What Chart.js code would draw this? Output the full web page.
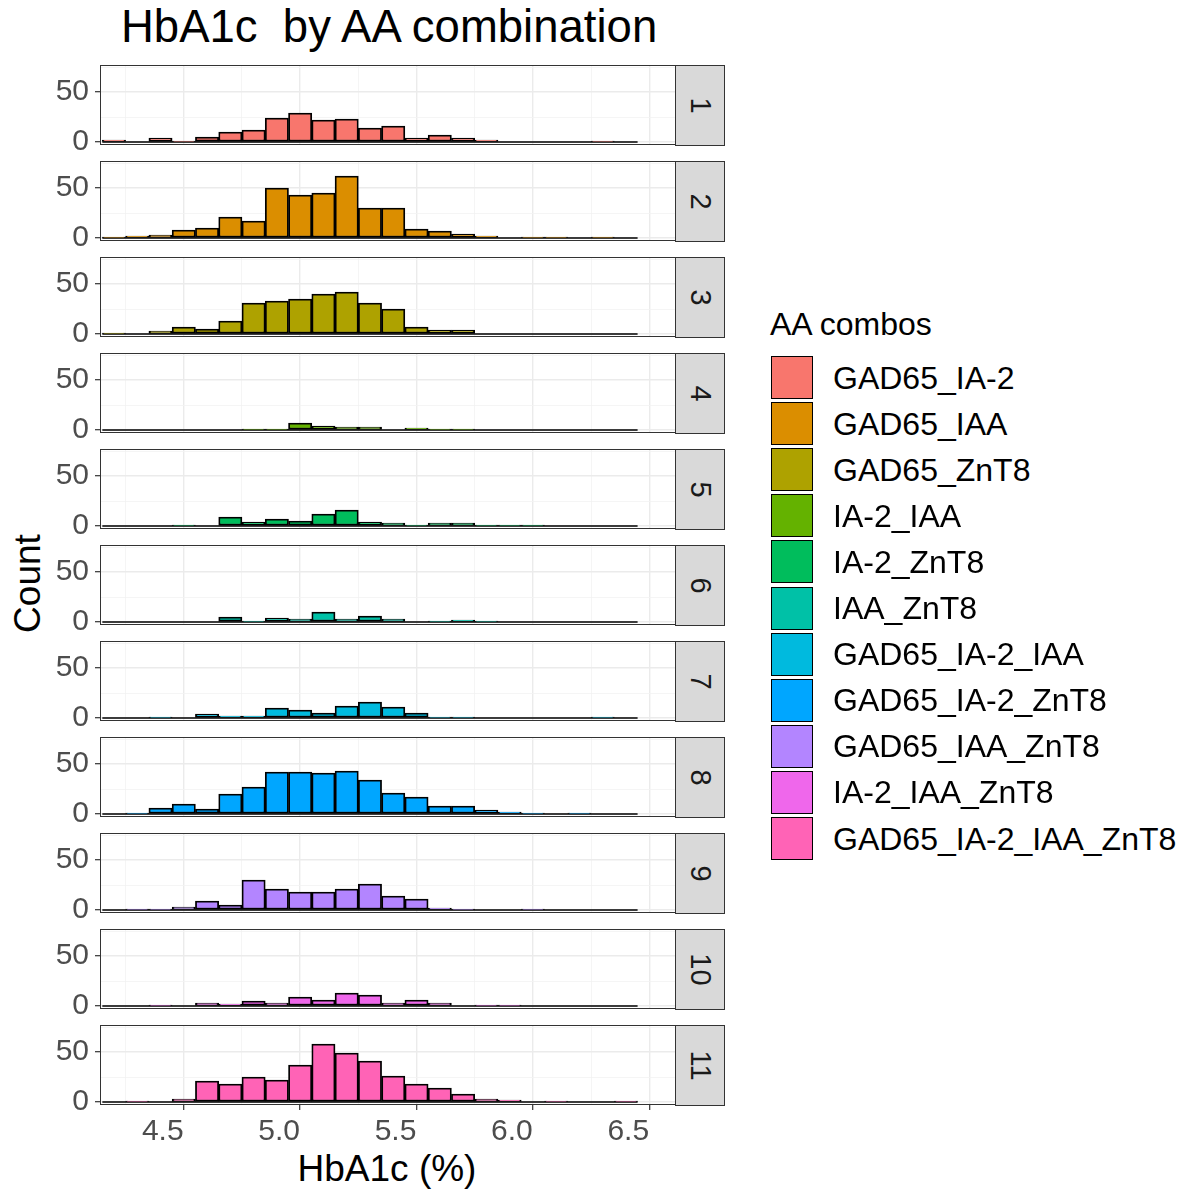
<!DOCTYPE html>
<html>
<head>
  <title>HbA1c by AA combination</title>
  <script src="https://cdn.jsdelivr.net/npm/chart.js"></script>
  <style>
    body { margin: 0; background: #fff; font-family: "Liberation Sans", Arial, sans-serif; }
    #page { position: relative; width: 1185px; height: 1194px; overflow: hidden; }
    .panel { position: absolute; left: 0; }
    .strip { position: absolute; left: 675px; width: 48px; height: 79px; background: #d9d9d9;
             border: 1px solid #333; display: flex; align-items: center; justify-content: center; }
    .strip span { display: block; transform: rotate(90deg); font-size: 29px; color: #1a1a1a; white-space: nowrap; }
    .txt { position: absolute; white-space: pre; line-height: 1; color: #000; }
    .key { position: absolute; left: 771px; width: 40px; height: 41px; border: 1.5px solid #000; }
  </style>
</head>
<body>
<div id="page">
  <div class="txt" style="left:121px; top:4px; font-size:45.5px;">HbA1c  by AA combination</div>
  <div class="txt" style="left:-73px; top:565px; width:200px; text-align:center; font-size:37px; transform:rotate(-90deg);">Count</div>
  <div class="txt" style="left:287px; top:1150px; width:200px; text-align:center; font-size:37px;">HbA1c (%)</div>
  <div class="txt" style="left:770px; top:308px; font-size:32px;">AA combos</div>
</div>

<script>
  // histogram bins (HbA1c %), bin centres
  const binCenters = [4.2, 4.3, 4.4, 4.5, 4.6, 4.7, 4.8, 4.9, 5.0, 5.1, 5.2, 5.3,
                      5.4, 5.5, 5.6, 5.7, 5.8, 5.9, 6.0, 6.1, 6.2, 6.3, 6.4];

  const panelIds = ['1', '2', '3', '4', '5', '6', '7', '8', '9', '10', '11'];
  const comboNames = ['GAD65_IA-2', 'GAD65_IAA', 'GAD65_ZnT8', 'IA-2_IAA', 'IA-2_ZnT8', 'IAA_ZnT8',
                      'GAD65_IA-2_IAA', 'GAD65_IA-2_ZnT8', 'GAD65_IAA_ZnT8', 'IA-2_IAA_ZnT8', 'GAD65_IA-2_IAA_ZnT8'];
  const comboColors = ['#F8766D', '#DB8E00', '#AEA200', '#64B200', '#00BD5C', '#00C1A7',
                       '#00BADE', '#00A6FF', '#B385FF', '#EF67EB', '#FF63B6'];

  // counts per bin, one array per panel
  const counts1  = [2, 0, 4, 1, 5, 10, 12, 24, 29, 22, 23, 14, 16, 4, 7, 4, 2, 0, 0, 0, 0, 1, 0];
  const counts2  = [1, 2, 3, 8, 10, 21, 17, 50, 43, 45, 62, 30, 30, 9, 7, 4, 2, 0, 1, 1, 0, 1, 0];
  const counts3  = [1, 0, 3, 7, 5, 13, 31, 33, 35, 40, 42, 31, 25, 7, 4, 4, 0, 0, 0, 0, 0, 0, 0];
  const counts4  = [0, 0, 0, 0, 0, 0, 1, 1, 7, 4, 3, 3, 0, 2, 1, 1, 0, 0, 0, 0, 0, 0, 0];
  const counts5  = [0, 0, 0, 1, 0, 9, 4, 7, 5, 12, 16, 4, 3, 1, 3, 3, 1, 1, 1, 0, 0, 0, 0];
  const counts6  = [0, 0, 0, 0, 0, 5, 1, 4, 3, 10, 3, 6, 3, 0, 1, 2, 1, 0, 0, 0, 0, 0, 0];
  const counts7  = [0, 0, 1, 0, 4, 2, 2, 10, 8, 5, 12, 16, 11, 5, 1, 1, 0, 0, 0, 0, 0, 1, 0];
  const counts8  = [0, 1, 6, 10, 5, 20, 27, 42, 42, 41, 43, 34, 21, 17, 8, 8, 4, 2, 1, 0, 1, 0, 0];
  const counts9  = [0, 1, 1, 3, 9, 5, 30, 21, 18, 18, 21, 26, 14, 11, 2, 1, 0, 0, 1, 0, 0, 0, 0];
  const counts10 = [0, 0, 1, 0, 3, 2, 5, 3, 9, 6, 13, 11, 3, 6, 3, 0, 1, 1, 0, 0, 0, 0, 0];
  const counts11 = [0, 1, 0, 3, 21, 18, 25, 22, 37, 58, 49, 41, 26, 18, 14, 8, 3, 2, 0, 1, 0, 0, 1];
  const panelCounts = [counts1, counts2, counts3, counts4, counts5, counts6,
                       counts7, counts8, counts9, counts10, counts11];

  // axes
  const xMajor = [4.5, 5.0, 5.5, 6.0, 6.5];
  const xMajorLabels = ['4.5', '5.0', '5.5', '6.0', '6.5'];
  const xMinor = [4.25, 4.75, 5.25, 5.75, 6.25];
  const yMajor = [0, 50];
  const yMajorLabels = ['0', '50'];
  const yMinor = [25, 75];

  const page = document.getElementById('page');
  const binWidth = binCenters[1] - binCenters[0];
  const xGrid = xMajor.concat(xMinor).sort((a, b) => a - b);
  const yGrid = yMajor.concat(yMinor).sort((a, b) => a - b);

  const panelBorder = {
    id: 'panelBorder',
    afterDraw(chart) {
      const a = chart.chartArea, c = chart.ctx;
      c.save();
      c.strokeStyle = '#333';
      c.lineWidth = 1;
      c.strokeRect(a.left + 0.5, a.top + 0.5, a.right - a.left - 1, a.bottom - a.top - 1);
      c.restore();
    }
  };

  panelIds.forEach((id, i) => {
    const last = i === panelIds.length - 1;
    const top = 65 + 96 * i;

    const box = document.createElement('div');
    box.className = 'panel';
    box.style.top = top + 'px';
    const cv = document.createElement('canvas');
    cv.width = 676;
    cv.height = last ? 130 : 100;
    box.appendChild(cv);
    page.appendChild(box);

    const strip = document.createElement('div');
    strip.className = 'strip';
    strip.style.top = top + 'px';
    strip.innerHTML = '<span>' + id + '</span>';
    page.appendChild(strip);

    const counts = panelCounts[i];
    new Chart(cv, {
      data: {
        datasets: [{
          type: 'bar',
          data: binCenters.map((x, k) => ({ x: x, y: counts[k] })),
          backgroundColor: comboColors[i],
          borderColor: '#000',
          borderWidth: 1.8,
          borderSkipped: false,
          barPercentage: 1,
          categoryPercentage: 1
        }, {
          type: 'line',
          data: [{ x: binCenters[0] - binWidth / 2, y: 0 },
                 { x: binCenters[binCenters.length - 1] + binWidth / 2, y: 0 }],
          borderColor: '#000',
          borderWidth: 1.6,
          pointRadius: 0
        }]
      },
      options: {
        responsive: false,
        animation: false,
        devicePixelRatio: 1,
        layout: { padding: { left: 0, right: 0, top: 0, bottom: last ? 0 : 20 } },
        plugins: { legend: { display: false }, tooltip: { enabled: false } },
        scales: {
          x: {
            type: 'linear', min: 4.14, max: 6.615, offset: false,
            afterBuildTicks: s => { s.ticks = xGrid.map(v => ({ value: v })); },
            afterFit: s => { s.height = last ? 50 : 0; s.paddingLeft = 0; s.paddingRight = 0; },
            border: { display: false },
            grid: {
              offset: false,
              drawTicks: last,
              tickLength: 5,
              color: ctx => xMajor.includes(ctx.tick.value) ? '#ebebeb' : '#f3f3f3',
              lineWidth: ctx => xMajor.includes(ctx.tick.value) ? 1.4 : 0.8,
              tickColor: ctx => xMajor.includes(ctx.tick.value) ? '#333' : 'rgba(0,0,0,0)',
              tickWidth: 1.2
            },
            ticks: {
              display: last,
              autoSkip: false,
              maxRotation: 0,
              padding: 4,
              labelOffset: -21,
              color: '#4d4d4d',
              font: { family: '"Liberation Sans", Arial, sans-serif', size: 30 },
              callback: v => { const k = xMajor.indexOf(v); return k >= 0 ? xMajorLabels[k] : ''; }
            }
          },
          y: {
            type: 'linear', min: -3, max: 77,
            afterBuildTicks: s => { s.ticks = yGrid.map(v => ({ value: v })); },
            afterFit: s => { s.width = 100; s.paddingTop = 0; s.paddingBottom = 0; },
            border: { display: false },
            grid: {
              tickLength: 5,
              color: ctx => yMajor.includes(ctx.tick.value) ? '#ebebeb' : '#f3f3f3',
              lineWidth: ctx => yMajor.includes(ctx.tick.value) ? 1.4 : 0.8,
              tickColor: ctx => yMajor.includes(ctx.tick.value) ? '#333' : 'rgba(0,0,0,0)',
              tickWidth: 1.2
            },
            ticks: {
              autoSkip: false,
              padding: 6,
              color: '#4d4d4d',
              font: { family: '"Liberation Sans", Arial, sans-serif', size: 30 },
              callback: v => { const k = yMajor.indexOf(v); return k >= 0 ? yMajorLabels[k] : ''; }
            }
          }
        }
      },
      plugins: [panelBorder]
    });
  });

  // legend
  comboNames.forEach((name, i) => {
    const y = 356 + 46.1 * i;
    const key = document.createElement('div');
    key.className = 'key';
    key.style.top = y + 'px';
    key.style.background = comboColors[i];
    page.appendChild(key);
    const lab = document.createElement('div');
    lab.className = 'txt';
    lab.style.left = '833px';
    lab.style.top = (y + 21.5 - 16) + 'px';
    lab.style.fontSize = '32px';
    lab.textContent = name;
    page.appendChild(lab);
  });
</script>
</body>
</html>
